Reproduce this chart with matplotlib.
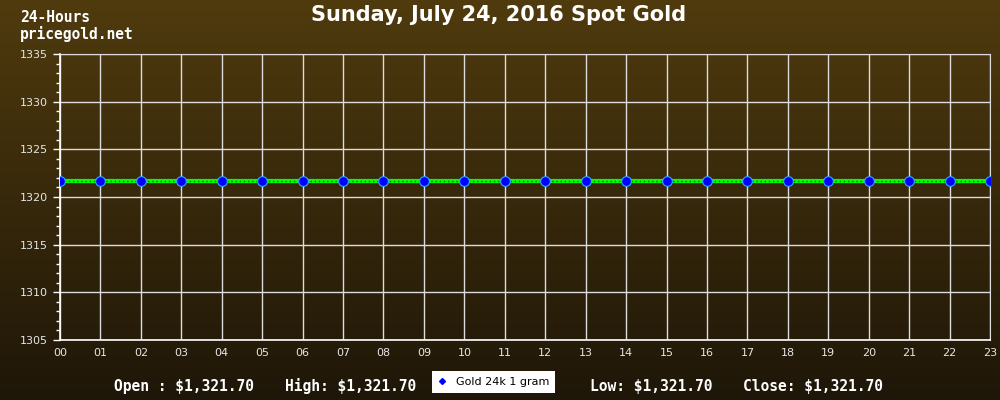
import numpy as np
import matplotlib
matplotlib.use("Agg")
import matplotlib.pyplot as plt
from matplotlib.lines import Line2D

# --- data ---
hours = list(range(24))
hour_labels = [f"{h:02d}" for h in hours]
prices = [1321.70] * 24
title = "Sunday, July 24, 2016 Spot Gold"
series_name = "Gold 24k 1 gram"
open_price = 1321.70
high_price = 1321.70
low_price = 1321.70
close_price = 1321.70

fig = plt.figure(figsize=(10, 4), dpi=100)

# background gradient (brown, lighter at top)
bg = fig.add_axes([0, 0, 1, 1], zorder=-10)
top = np.array([0x50, 0x3b, 0x0e]) / 255
bot = np.array([0x1e, 0x16, 0x08]) / 255
t = np.linspace(0, 1, 256)[:, None]
grad = top * (1 - t) + bot * t
bg.imshow(grad[:, None, :], aspect="auto", extent=[0, 1, 0, 1])
bg.axis("off")

ax = fig.add_axes([0.06, 0.15, 0.93, 0.715])
ax.patch.set_alpha(0)

ax.plot(hours, prices, color="#00ff00", lw=3, zorder=3)
ax.plot(hours, prices, color="#0a5a00", lw=1, dashes=(1, 2), zorder=3)
ax.plot(hours, prices, ls="none", marker="o", ms=7, mfc="#0000ff",
        mec="#33aaff", mew=0.8, zorder=4)

ax.set_xlim(0, 23)
ax.set_ylim(1305, 1335)
ax.set_xticks(hours)
ax.set_xticklabels(hour_labels)
ax.set_yticks(np.arange(1305, 1336, 5))
ax.set_yticks(np.arange(1305, 1336, 1), minor=True)

ax.grid(True, which="major", color="#dcdcdc", lw=1)
for side in ["top", "right"]:
    ax.spines[side].set_color("#dcdcdc")
for side in ["left", "bottom"]:
    ax.spines[side].set_color("white")
    ax.spines[side].set_linewidth(1.2)
ax.tick_params(axis="both", which="major", colors="white", labelcolor="#e6e6e6",
               labelsize=8, length=5, width=1)
ax.tick_params(axis="y", which="minor", colors="white", length=3, width=1)
ax.tick_params(axis="x", which="major", length=0, pad=6)

fig.text(0.499, 0.962, title, ha="center", va="center", color="white",
         fontsize=15, fontweight="bold", family="DejaVu Sans")
fig.text(0.02, 0.955, "24-Hours", ha="left", va="center", color="white",
         fontsize=10.5, fontweight="bold", family="DejaVu Sans Mono")
fig.text(0.02, 0.915, "pricegold.net", ha="left", va="center", color="white",
         fontsize=10.5, fontweight="bold", family="DejaVu Sans Mono")

mono = dict(color="white", fontsize=10.5, fontweight="bold",
            family="DejaVu Sans Mono", va="center")
fig.text(0.114, 0.035, f"Open : ${open_price:,.2f}", ha="left", **mono)
fig.text(0.285, 0.035, f"High: ${high_price:,.2f}", ha="left", **mono)
fig.text(0.590, 0.035, f"Low: ${low_price:,.2f}", ha="left", **mono)
fig.text(0.743, 0.035, f"Close: ${close_price:,.2f}", ha="left", **mono)

handle = Line2D([], [], ls="none", marker="D", ms=3, mfc="#0000ff", mec="#0000ff")
leg = fig.legend([handle], [series_name], loc="center", bbox_to_anchor=(0.4935, 0.045),
                 frameon=True, fancybox=False, fontsize=8, handlelength=0.8,
                 handletextpad=0.8, borderpad=0.5, borderaxespad=0, framealpha=1)
leg.get_frame().set_facecolor("white")
leg.get_frame().set_edgecolor("white")
leg.get_frame().set_linewidth(0)

fig.savefig("out.png", dpi=100)
